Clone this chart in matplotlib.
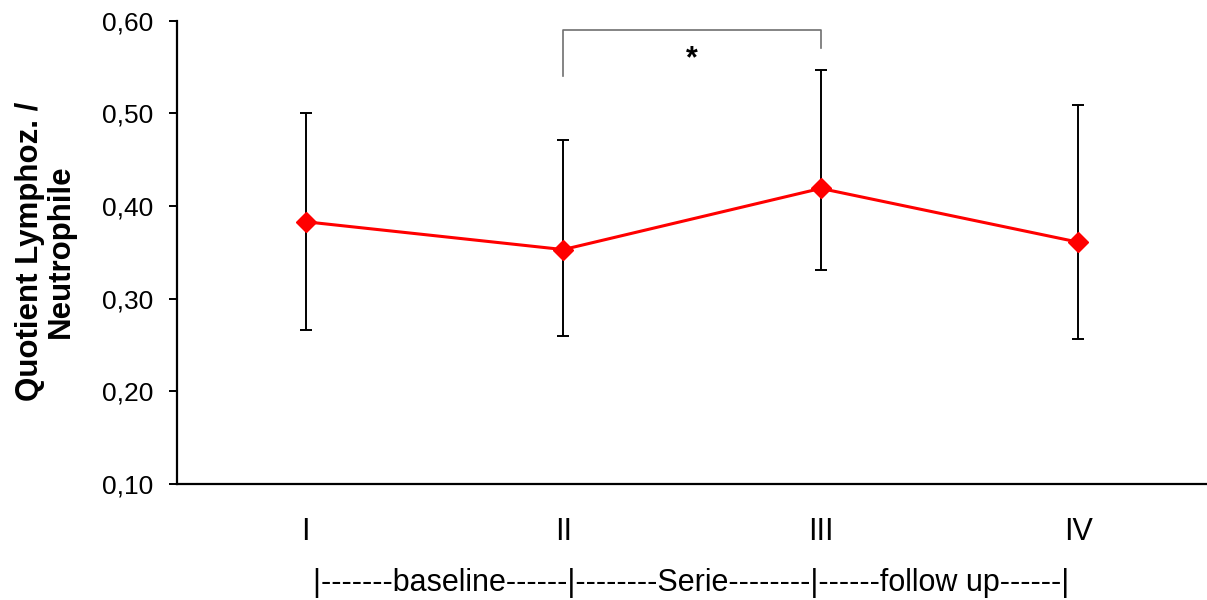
import numpy as np
import matplotlib.pyplot as plt

plt.rcParams['font.family'] = ['Liberation Sans', 'DejaVu Sans']

labels = ['I', 'II', 'III', 'IV']
means = [0.383, 0.353, 0.419, 0.361]
upper = [0.500, 0.471, 0.547, 0.509]
lower = [0.266, 0.260, 0.331, 0.257]

x = np.arange(len(labels)) + 0.5
yerr = [np.array(means) - np.array(lower), np.array(upper) - np.array(means)]

fig = plt.figure(figsize=(12.07, 6.0), dpi=100)
ax = fig.add_axes([0.1467, 0.1933, 0.8533, 0.7722])

ax.errorbar(x, means, yerr=yerr, fmt='none', ecolor='black', elinewidth=1.4,
            capsize=4, capthick=1.4, zorder=2)
ax.plot(x, means, color='#FF0000', lw=2.2, marker='D', markersize=10,
        zorder=3)

ax.set_xlim(0, 4)
ax.set_ylim(0.10, 0.60)
ticks = np.arange(0.10, 0.61, 0.10)
ax.set_yticks(ticks)
ax.set_yticklabels([f'{v:.2f}'.replace('.', ',') for v in ticks])
ax.set_xticks(x)
ax.set_xticklabels(labels)
ax.tick_params(axis='y', length=6, width=1.4, labelsize=19, pad=11)
ax.tick_params(axis='x', length=0, labelsize=22, pad=24)

for s in ['top', 'right']:
    ax.spines[s].set_visible(False)
for s in ['left', 'bottom']:
    ax.spines[s].set_linewidth(1.6)

ax.set_ylabel('Quotient Lymphoz. /\nNeutrophile', fontsize=22.5, fontweight='bold',
              linespacing=1.05)
ax.yaxis.set_label_coords(-0.098, 0.503)

# significance bracket between II and III
yb = 0.590
ax.plot([x[1], x[1], x[2], x[2]], [0.540, yb, yb, 0.570], color='#707070',
        lw=1.2, clip_on=False)
ax.text((x[1] + x[2]) / 2, 0.558, '*', ha='center', va='center', fontsize=22,
        fontweight='bold')

fig.text(0.5725, 0.028, '|-------baseline------|--------Serie--------|------follow up------|',
         ha='center', va='center', fontsize=22)

fig.savefig('out.png', dpi=100)
